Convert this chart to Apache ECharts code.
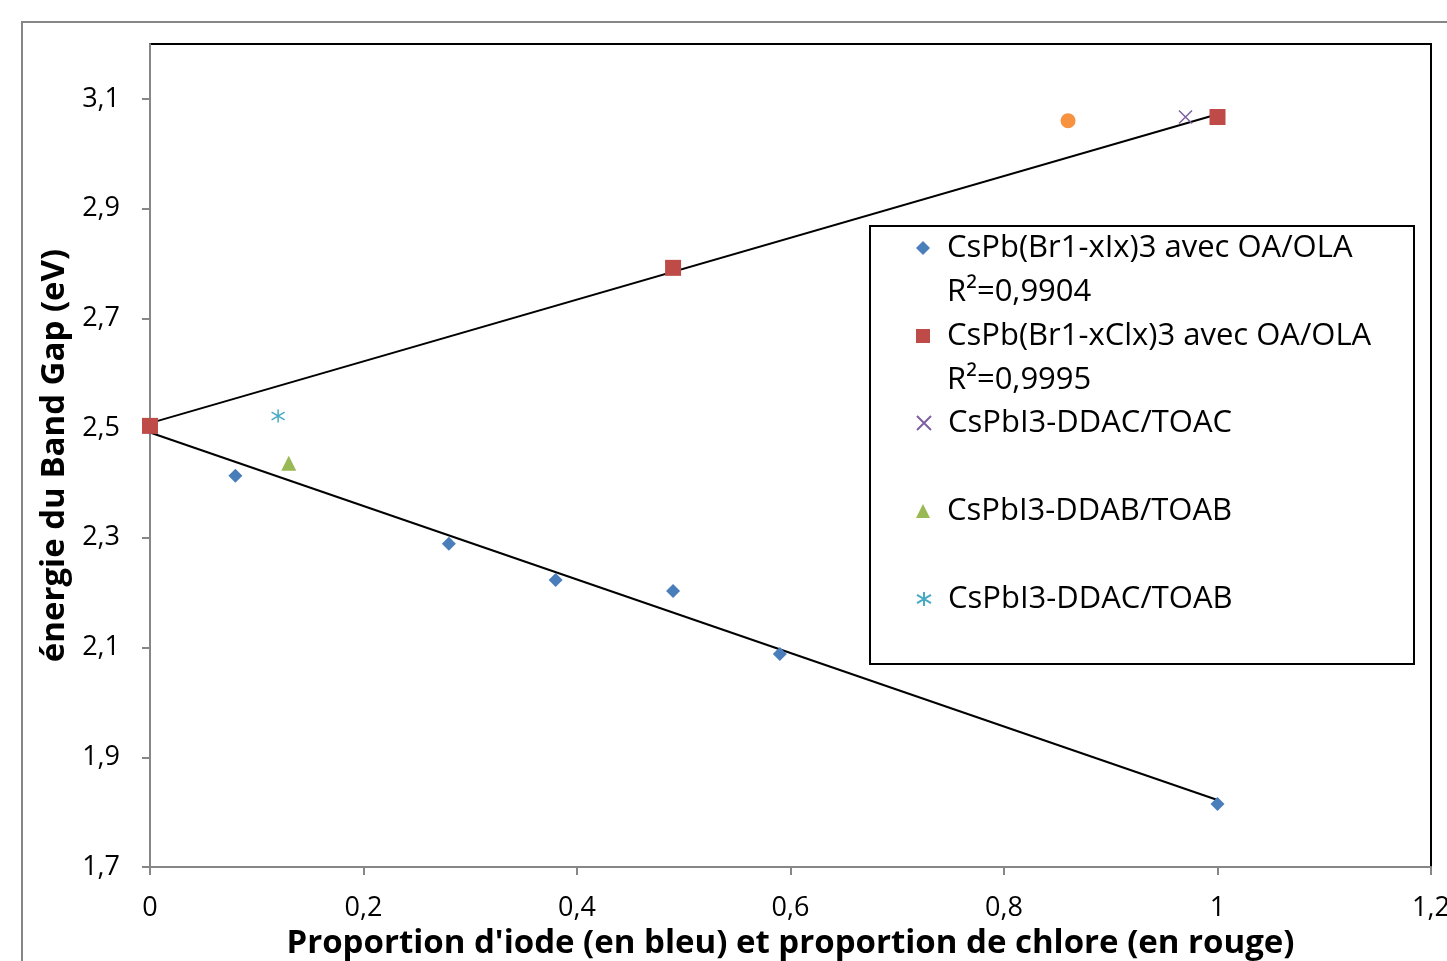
<!DOCTYPE html>
<html><head><meta charset="utf-8">
<script src="https://cdn.jsdelivr.net/npm/echarts@6/dist/echarts.min.js"></script>
<style>html,body{margin:0;padding:0;background:#fff}#c{width:1447px;height:961px}</style>
</head><body><div id="c"></div>
<script>
// ---- data ----
const iodeX = [0, 0.08, 0.28, 0.38, 0.49, 0.59, 1];
const iodeY = [2.50, 2.413, 2.289, 2.223, 2.203, 2.088, 1.815];
const chloreX = [0, 0.49, 1];
const chloreY = [2.504, 2.792, 3.067];
const ddacToacX = [0.97];
const ddacToacY = [3.067];
const ddabToabX = [0.13];
const ddabToabY = [2.436];
const ddacToabX = [0.12];
const ddacToabY = [2.522];
const otherX = [0.86];
const otherY = [3.060];
const trendIodeX = [0, 1];
const trendIodeY = [2.492, 1.822];
const trendChloreX = [0, 1];
const trendChloreY = [2.509, 3.072];
const xTicks = [0, 0.2, 0.4, 0.6, 0.8, 1, 1.2];
const yTicks = [1.7, 1.9, 2.1, 2.3, 2.5, 2.7, 2.9, 3.1];
const names = ['CsPb(Br1-xIx)3 avec OA/OLA', 'CsPb(Br1-xClx)3 avec OA/OLA', 'CsPbI3-DDAC/TOAC', 'CsPbI3-DDAB/TOAB', 'CsPbI3-DDAC/TOAB'];
const r2 = ['R²=0,9904', 'R²=0,9995'];
const xTitle = "Proportion d'iode (en bleu) et proportion de chlore (en rouge)";
const yTitle = "énergie du Band Gap (eV)";

const zip = (a, b) => a.map((v, i) => [v, b[i]]);
const fmt = v => String(Math.round(v * 10) / 10).replace('.', ',');
const FONT = 'Open Sans';

const chart = echarts.init(document.getElementById('c'));
const iconY = [248, 336, 423, 511, 599];
const legends = names.map((n, i) => ({
  data: [{ name: n }],
  left: 916, top: i < 2 ? iconY[i] - 66 : iconY[i] - 22,
  padding: 0, itemWidth: 14, itemHeight: 14,
  formatter: i < 2 ? (name => ' \n' + name + '\n' + r2[names.indexOf(name)]) : undefined,
  textStyle: { fontFamily: FONT, fontSize: 31, color: '#000', lineHeight: 44, padding: [0, 0, 0, 12] },
  selectedMode: false, z: 10
}));

chart.setOption({
  animation: false,
  grid: { left: 150, right: 16, top: 44, bottom: 94, containLabel: false, outerBoundsMode: 'none', show: true, borderColor: '#000', borderWidth: 2, backgroundColor: 'transparent' },
  graphic: [
    { type: 'rect', shape: { x: 22, y: 22, width: 1500, height: 1000 }, style: { fill: 'none', stroke: '#868686', lineWidth: 2 }, z: -1 },
    { type: 'rect', shape: { x: 870, y: 226, width: 544, height: 438 }, style: { fill: '#fff', stroke: '#000', lineWidth: 2 }, z: 5 }
  ],
  legend: legends,
  xAxis: {
    type: 'value', min: 0, max: 1.2, interval: 0.2,
    axisLine: { lineStyle: { color: '#868686', width: 2 } },
    axisTick: { show: true, length: 8, lineStyle: { color: '#868686', width: 2 }, customValues: xTicks },
    axisLabel: { customValues: xTicks, formatter: fmt, fontFamily: FONT, fontSize: 27, color: '#000', margin: 28 },
    splitLine: { show: false },
    name: xTitle, nameLocation: 'middle', nameGap: 52,
    nameTextStyle: { fontFamily: FONT, fontSize: 33, fontWeight: 'bold', color: '#000' }
  },
  yAxis: {
    type: 'value', min: 1.7, max: 3.2,
    axisLine: { show: true, lineStyle: { color: '#868686', width: 2 } },
    axisTick: { show: true, length: 8, lineStyle: { color: '#868686', width: 2 }, customValues: yTicks },
    axisLabel: { customValues: yTicks, formatter: fmt, fontFamily: FONT, fontSize: 27, color: '#000', margin: 30 },
    splitLine: { show: false },
    name: yTitle, nameLocation: 'middle', nameGap: 78,
    nameTextStyle: { fontFamily: FONT, fontSize: 33, fontWeight: 'bold', color: '#000' }
  },
  series: [
    { type: 'line', data: zip(trendIodeX, trendIodeY), symbol: 'none', lineStyle: { color: '#000', width: 2 }, silent: true, z: 1 },
    { type: 'line', data: zip(trendChloreX, trendChloreY), symbol: 'none', lineStyle: { color: '#000', width: 2 }, silent: true, z: 1 },
    { name: names[0], type: 'scatter', data: zip(iodeX, iodeY), symbol: 'diamond', symbolSize: 14, itemStyle: { color: '#4A7EBB', opacity: 1 }, z: 2 },
    { name: names[1], type: 'scatter', data: zip(chloreX, chloreY), symbol: 'rect', symbolSize: 16, itemStyle: { color: '#BE4B48', opacity: 1 }, z: 3 },
    { name: names[2], type: 'scatter', data: zip(ddacToacX, ddacToacY), symbol: 'path://M0,0L10,10M10,0L0,10', symbolSize: 13, itemStyle: { color: 'rgba(0,0,0,0)', borderColor: '#7D60A0', borderWidth: 1.5, opacity: 1 }, z: 2 },
    { name: names[3], type: 'scatter', data: zip(ddabToabX, ddabToabY), symbol: 'triangle', symbolSize: 15, itemStyle: { color: '#98B954', opacity: 1 }, z: 2 },
    { name: names[4], type: 'scatter', data: zip(ddacToabX, ddacToabY), symbol: 'path://M5,0L5,10M0,2L10,8M10,2L0,8', symbolSize: 13, itemStyle: { color: 'rgba(0,0,0,0)', borderColor: '#46AAC5', borderWidth: 1.5, opacity: 1 }, z: 2 },
    { name: 'autre', type: 'scatter', data: zip(otherX, otherY), symbol: 'circle', symbolSize: 15, itemStyle: { color: '#F69240', opacity: 1 }, z: 2 }
  ]
});
</script></body></html>
